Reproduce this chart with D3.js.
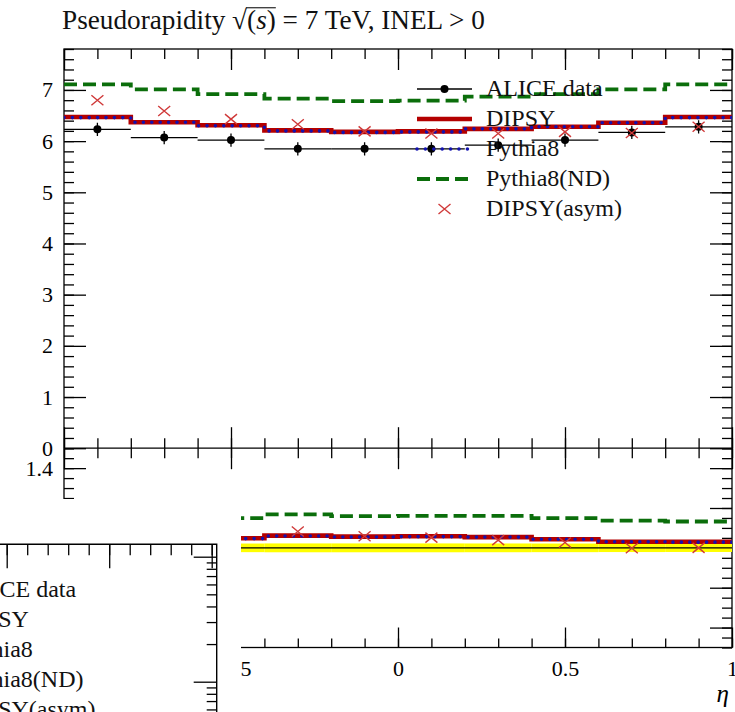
<!DOCTYPE html>
<html><head><meta charset="utf-8">
<script src="https://cdn.jsdelivr.net/npm/d3@7"></script>
<style>body{margin:0;background:#fff} svg{display:block}</style>
</head><body>
<svg id="c" width="735" height="712"></svg>
<script>
// ---------------- data ----------------
const binEdges   = [-1, -0.8, -0.6, -0.4, -0.2, 0, 0.2, 0.4, 0.6, 0.8, 1];
const aliceData  = [6.23, 6.07, 6.02, 5.85, 5.85, 5.85, 5.92, 6.02, 6.17, 6.28];
const aliceErr   = [0.13, 0.13, 0.13, 0.13, 0.13, 0.13, 0.13, 0.13, 0.13, 0.13];
const dipsy      = [6.47, 6.37, 6.31, 6.21, 6.18, 6.19, 6.24, 6.28, 6.36, 6.47];
const pythia8    = [6.46, 6.37, 6.30, 6.20, 6.17, 6.18, 6.24, 6.28, 6.36, 6.46];
const pythia8ND  = [7.11, 7.01, 6.92, 6.83, 6.78, 6.79, 6.87, 6.92, 7.01, 7.11];
const dipsyAsym  = [6.80, 6.59, 6.43, 6.33, 6.19, 6.15, 6.15, 6.18, 6.16, 6.28];
const legendLabels = ["ALICE data", "DIPSY", "Pythia8", "Pythia8(ND)", "DIPSY(asym)"];
const yTickLabels  = [0, 1, 2, 3, 4, 5, 6, 7];
const ratioTickLabels = [0.6, 0.8, 1.0, 1.2, 1.4];
const xTickLabels  = [-1, -0.5, 0, 0.5, 1];
const boxXMajor = [0, 0.5, 1];
const boxYMajor = [1, 10];
const boxYMinor = [0.6, 0.7, 0.8, 0.9, 2, 3, 4, 5, 6, 7, 8, 9];

// ---------------- setup ----------------
const svg = d3.select("#c");
const FONT = "'Liberation Serif','Times New Roman',serif";
const L = 64, R = 732, T = 49, MID = 448.2, B = 647.5;
const x  = d3.scaleLinear().domain([-1, 1]).range([L, R]);
const y  = d3.scaleLinear().domain([0, 7.8]).range([MID, T]);
const yr = d3.scaleLinear().domain([0.5, 1.5]).range([B, MID]);
const centers = aliceData.map((d, i) => (binEdges[i] + binEdges[i + 1]) / 2);

// white overlay box (another panel's corner) covers this region
const COVER = {x1: 241, y1: 499};
const covered = (px, py) => px < COVER.x1 && py > COVER.y1;

const C_RED = "#b40000", C_BLUE = "#1212b0", C_GREEN = "#0b6e0b", C_X = "#d03a3a";
const DOTS = "0,8.4", DOTW = 3.6;

const defs = svg.append("defs");
defs.append("clipPath").attr("id", "clipTop").append("rect").attr("x", L).attr("y", T).attr("width", R - L).attr("height", MID - T);
defs.append("clipPath").attr("id", "clipRat").append("rect").attr("x", L).attr("y", MID).attr("width", R - L).attr("height", B - MID);

function ax(gen, scale, vals, size, tx, ty, fmt, pad) {
  const a = gen(scale).tickValues(vals).tickSize(-size).tickSizeOuter(0);
  if (fmt) a.tickFormat(fmt).tickPadding(pad); else a.tickFormat("");
  const g = svg.append("g").attr("transform", `translate(${tx},${ty})`).call(a);
  g.select(".domain").remove();
  g.attr("font-family", FONT).attr("font-size", 22);
  g.selectAll("line").attr("stroke", "#000").attr("stroke-width", 1.3);
  g.selectAll("text").attr("fill", "#000");
  if (!fmt) g.selectAll("text").remove();
  return g;
}
const xMinor = d3.range(-10, 11).map(i => i / 10);
const yMinor = d3.range(0, 40).map(i => i * 0.2);
const rMinor = d3.range(10, 31).map(i => i * 0.05);
const fmtX = d => d === 0 ? "0" : String(d).replace("-", "\u2212");

// top panel axes
ax(d3.axisTop, x, xMinor, 10, 0, T);
ax(d3.axisTop, x, xTickLabels, 21, 0, T);
ax(d3.axisBottom, x, xMinor, 10, 0, MID);
ax(d3.axisBottom, x, xTickLabels, 21, 0, MID);
ax(d3.axisLeft, y, yMinor, 10, L, 0);
ax(d3.axisLeft, y, yTickLabels, 22, L, 0, d3.format("d"), 11);
ax(d3.axisRight, y, yMinor, 10, R, 0);
ax(d3.axisRight, y, yTickLabels, 22, R, 0);
// ratio axes
ax(d3.axisTop, x, xMinor, 10, 0, MID);
ax(d3.axisTop, x, xTickLabels, 21, 0, MID);
ax(d3.axisBottom, x, xMinor, 9, 0, B);
ax(d3.axisBottom, x, xTickLabels, 20, 0, B);
ax(d3.axisBottom, x, xTickLabels.filter(v => !covered(x(v) + 20, B + 20)), 0, 0, B, fmtX, 13);
ax(d3.axisLeft, yr, rMinor, 10, L, 0);
ax(d3.axisLeft, yr, ratioTickLabels, 22, L, 0);
ax(d3.axisLeft, yr, ratioTickLabels.filter(v => !covered(L - 20, yr(v) - 9)), 0, L, 0, d => d.toFixed(1), 11);
ax(d3.axisRight, yr, rMinor, 10, R, 0);
ax(d3.axisRight, yr, ratioTickLabels, 22, R, 0);

// frame
svg.append("rect").attr("x", L).attr("y", T).attr("width", R - L).attr("height", B - T)
  .attr("fill", "none").attr("stroke", "#000").attr("stroke-width", 1.3);
svg.append("line").attr("x1", L).attr("x2", R).attr("y1", MID).attr("y2", MID)
  .attr("stroke", "#000").attr("stroke-width", 1.3);

function stepPath(vals, ys) {
  return d3.line().curve(d3.curveStepAfter).x(d => x(d[0])).y(d => ys(d[1]))(
    binEdges.map((e, i) => [e, vals[Math.min(i, vals.length - 1)]]));
}
const crossPath = "M-6,-5L6,5M-6,5L6,-5";

// ---------------- top panel ----------------
const gt = svg.append("g").attr("clip-path", "url(#clipTop)");
aliceData.forEach((v, i) => {
  gt.append("line").attr("x1", x(binEdges[i])).attr("x2", x(binEdges[i + 1]))
    .attr("y1", y(v)).attr("y2", y(v)).attr("stroke", "#000").attr("stroke-width", 1.3);
  gt.append("line").attr("x1", x(centers[i])).attr("x2", x(centers[i]))
    .attr("y1", y(v - aliceErr[i])).attr("y2", y(v + aliceErr[i])).attr("stroke", "#000").attr("stroke-width", 1.3);
  gt.append("circle").attr("cx", x(centers[i])).attr("cy", y(v)).attr("r", 4).attr("fill", "#000");
});
gt.append("path").attr("d", stepPath(dipsy, y)).attr("fill", "none").attr("stroke", C_RED).attr("stroke-width", 4.6);
gt.append("path").attr("d", stepPath(pythia8, y)).attr("fill", "none").attr("stroke", C_BLUE)
  .attr("stroke-width", DOTW).attr("stroke-linecap", "round").attr("stroke-dasharray", DOTS);
gt.append("path").attr("d", stepPath(pythia8ND, y)).attr("fill", "none").attr("stroke", C_GREEN)
  .attr("stroke-width", 3.8).attr("stroke-dasharray", "13,6");
dipsyAsym.forEach((v, i) => {
  gt.append("path").attr("d", crossPath).attr("transform", `translate(${x(centers[i])},${y(v)})`)
    .attr("stroke", C_X).attr("stroke-width", 1.4).attr("fill", "none");
});

// ---------------- ratio panel ----------------
const gr = svg.append("g").attr("clip-path", "url(#clipRat)");
const relErr = aliceErr.map((e, i) => e / aliceData[i]);
relErr.forEach((e, i) => {
  gr.append("rect").attr("x", x(binEdges[i])).attr("width", x(binEdges[i + 1]) - x(binEdges[i]))
    .attr("y", yr(1 + e)).attr("height", yr(1 - e) - yr(1 + e)).attr("fill", "#ffff00");
});
gr.append("path").attr("d", stepPath(aliceData.map(() => 1), yr)).attr("fill", "none").attr("stroke", "#000").attr("stroke-width", 1.3);
const ratio = arr => arr.map((v, i) => v / aliceData[i]);
gr.append("path").attr("d", stepPath(ratio(dipsy), yr)).attr("fill", "none").attr("stroke", C_RED).attr("stroke-width", 4.6);
gr.append("path").attr("d", stepPath(ratio(pythia8), yr)).attr("fill", "none").attr("stroke", C_BLUE)
  .attr("stroke-width", DOTW).attr("stroke-linecap", "round").attr("stroke-dasharray", DOTS);
gr.append("path").attr("d", stepPath(ratio(pythia8ND), yr)).attr("fill", "none").attr("stroke", C_GREEN)
  .attr("stroke-width", 3.8).attr("stroke-dasharray", "13,6");
ratio(dipsyAsym).forEach((v, i) => {
  gr.append("path").attr("d", crossPath).attr("transform", `translate(${x(centers[i])},${yr(v)})`)
    .attr("stroke", C_X).attr("stroke-width", 1.4).attr("fill", "none");
});

// eta label
svg.append("text").attr("x", 729).attr("y", 702).attr("text-anchor", "end")
  .attr("font-family", FONT).attr("font-style", "italic").attr("font-size", 25).text("\u03b7");

// ---------------- legend ----------------
const LX0 = 417, LX1 = 472, LXT = 486, LY0 = 89, LDY = 30;
const lg = svg.append("g");
function legendSample(i) {
  const yy = LY0 + i * LDY, xm = (LX0 + LX1) / 2;
  if (i === 0) {
    lg.append("line").attr("x1", LX0).attr("x2", LX1).attr("y1", yy).attr("y2", yy).attr("stroke", "#000").attr("stroke-width", 1.3);
    lg.append("circle").attr("cx", xm).attr("cy", yy).attr("r", 4).attr("fill", "#000");
  } else if (i === 1) {
    lg.append("line").attr("x1", LX0).attr("x2", LX1).attr("y1", yy).attr("y2", yy).attr("stroke", C_RED).attr("stroke-width", 4.6);
  } else if (i === 2) {
    lg.append("line").attr("x1", LX0).attr("x2", LX1).attr("y1", yy).attr("y2", yy).attr("stroke", C_BLUE)
      .attr("stroke-width", DOTW).attr("stroke-linecap", "round").attr("stroke-dasharray", DOTS);
  } else if (i === 3) {
    lg.append("line").attr("x1", LX0).attr("x2", LX1).attr("y1", yy).attr("y2", yy).attr("stroke", C_GREEN)
      .attr("stroke-width", 3.8).attr("stroke-dasharray", "13,6");
  } else {
    lg.append("path").attr("d", crossPath).attr("transform", `translate(${xm},${yy})`).attr("stroke", C_X).attr("stroke-width", 1.4).attr("fill", "none");
  }
}
legendLabels.forEach((t, i) => {
  legendSample(i);
  lg.append("text").attr("x", LXT).attr("y", LY0 + i * LDY + 6.5).attr("font-family", FONT)
    .attr("font-size", 24).attr("fill", "#111").text(t);
});

// ---------------- title ----------------
const title = svg.append("text").attr("x", 62).attr("y", 29).attr("font-family", FONT).attr("font-size", 23).attr("fill", "#111");
title.append("tspan").text("Pseudorapidity ");
title.append("tspan").text("\u221a");
title.append("tspan").text("(");
title.append("tspan").attr("font-style", "italic").text("s");
title.append("tspan").text(") = 7 TeV, INEL > 0");
{
  const node = title.node();
  const len = node.getComputedTextLength();
  const fs = 23 * 423 / len;
  title.attr("font-size", fs);
  const x1 = node.getEndPositionOfChar(15).x;
  const x2 = node.getEndPositionOfChar(18).x;
  svg.append("line").attr("x1", x1 - 1).attr("x2", x2).attr("y1", 29 - 0.78 * fs).attr("y2", 29 - 0.78 * fs)
    .attr("stroke", "#111").attr("stroke-width", 1.1);
}

// ---------------- overlapping box (bottom-left) ----------------
svg.append("rect").attr("x", 0).attr("y", COVER.y1).attr("width", COVER.x1).attr("height", 712 - COVER.y1).attr("fill", "#fff");
const BX = 216.7, BT = 544.3;
const boxX = d3.scaleLinear().domain([0, 1]).range([6.7, 211.7]);
const boxY = d3.scaleLog().domain([1, 10]).range([681.7, 556.7]);
ax(d3.axisTop, boxX, d3.range(0, 11).map(i => i / 10), 11, 0, BT);
ax(d3.axisTop, boxX, boxXMajor, 24, 0, BT);
ax(d3.axisRight, boxY, boxYMinor, 10, BX, 0);
ax(d3.axisRight, boxY, boxYMajor, 23, BX, 0);
svg.append("path").attr("d", `M0,${BT}H${BX}V712`).attr("fill", "none").attr("stroke", "#000").attr("stroke-width", 1.4);
{
  const tmp = svg.append("text").attr("font-family", FONT).attr("font-size", 24).text("ALI");
  const w = tmp.node().getComputedTextLength();
  tmp.remove();
  legendLabels.forEach((t, i) => {
    svg.append("text").attr("x", -w - 0.5).attr("y", 596.5 + i * 30.2).attr("font-family", FONT)
      .attr("font-size", 24).attr("fill", "#111").text(t);
  });
}
</script>
</body></html>
